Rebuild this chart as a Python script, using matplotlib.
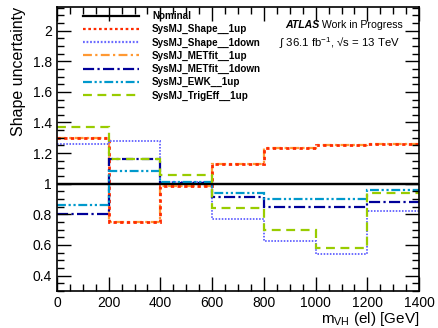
import matplotlib.pyplot as plt
import numpy as np
from matplotlib.ticker import MultipleLocator

plt.rcParams['font.family'] = ['Liberation Sans', 'DejaVu Sans']
plt.rcParams['mathtext.fontset'] = 'custom'
plt.rcParams['mathtext.rm'] = 'Liberation Sans'

edges = [0, 200, 400, 600, 800, 1000, 1200, 1400]

nominal = [1, 1, 1, 1, 1, 1, 1]
shape_up = [1.298, 0.749, 0.985, 1.13, 1.233, 1.25, 1.26]
shape_down = [1.259, 1.276, 1.01, 0.77, 0.625, 0.54, 0.82]
metfit_up = [1.298, 0.749, 0.985, 1.13, 1.233, 1.25, 1.26]
metfit_down = [0.80, 1.163, 1.006, 0.916, 0.847, 0.847, 0.878]
ewk_up = [0.86, 1.08, 1.01, 0.94, 0.90, 0.90, 0.956]
trigeff_up = [1.37, 1.163, 1.06, 0.844, 0.695, 0.58, 0.94]

names = ['Nominal', 'SysMJ_Shape__1up', 'SysMJ_Shape__1down', 'SysMJ_METfit__1up',
         'SysMJ_METfit__1down', 'SysMJ_EWK__1up', 'SysMJ_TrigEff__1up']
series = [nominal, shape_up, shape_down, metfit_up, metfit_down, ewk_up, trigeff_up]
colors = ['black', '#ff2a00', '#6a6aff', '#ff9933', '#000099', '#0099cc', '#99cc00']
styles = ['-', (0, (1.2, 1.2)), (0, (0.8, 0.8)), (0, (4, 1.5, 1, 1.5)),
          (0, (5, 1.5, 1, 1.5)), (0, (4, 1.2, 1, 1.2, 1, 1.2)), (0, (4, 2.5))]
widths = [1.6, 2, 1.4, 1.6, 1.6, 1.6, 1.6]

fig = plt.figure(figsize=(4.38, 3.28), dpi=100)
ax = fig.add_axes([0.130, 0.113, 0.827, 0.866])

# orange first so the red dots sit on top of it
order = [0, 3, 1, 2, 4, 5, 6]
handles = {}
for i in order:
    h = ax.stairs(series[i], edges, baseline=None, color=colors[i],
                  linestyle=styles[i], linewidth=widths[i], label=names[i])
    handles[i] = h
ax.axhline(1, color='black', linewidth=1.6)

ax.set_xlim(0, 1400)
ax.set_ylim(0.3, 2.155)
ax.xaxis.set_major_locator(MultipleLocator(200))
ax.xaxis.set_minor_locator(MultipleLocator(50))
ax.yaxis.set_minor_locator(MultipleLocator(0.05))
ax.tick_params(which='both', direction='in', top=True, right=True, labelsize=10)
ax.tick_params(which='major', length=10, width=1)
ax.tick_params(which='minor', length=5, width=1)
ax.set_yticks(np.arange(0.4, 2.01, 0.2))
ax.set_yticklabels(['0.4', '0.6', '0.8', '1', '1.2', '1.4', '1.6', '1.8', '2'])
for s in ax.spines.values():
    s.set_linewidth(1.2)

ax.set_ylabel('Shape uncertainty', fontsize=11.5, loc='top', labelpad=5)
ax.set_xlabel(r'm$_{\mathregular{VH}}$ (el) [GeV]', fontsize=11, loc='right', labelpad=0)

leg = ax.legend([handles[i] for i in range(7)], names, loc='upper left',
                bbox_to_anchor=(0.072, 0.985), frameon=False, borderpad=0,
                borderaxespad=0, handlelength=5.7, handletextpad=1.3,
                labelspacing=0.32, prop={'weight': 'bold', 'size': 7.1})
for line in leg.get_lines():
    line.set_linewidth(1.6)

t1 = ax.text(0.63, 0.937, 'ATLAS', transform=ax.transAxes, ha='left', va='center',
             fontsize=7.6, fontweight='bold', fontstyle='italic')
ax.annotate(' Work in Progress', xy=(1, 0.5), xycoords=t1, ha='left', va='center',
            fontsize=7.6)
ax.text(0.948, 0.872, '\u222b 36.1 fb$^{-1}$, \u221as = 13 TeV', transform=ax.transAxes,
        ha='right', va='center', fontsize=8.2)

fig.savefig('out.png', dpi=100)
